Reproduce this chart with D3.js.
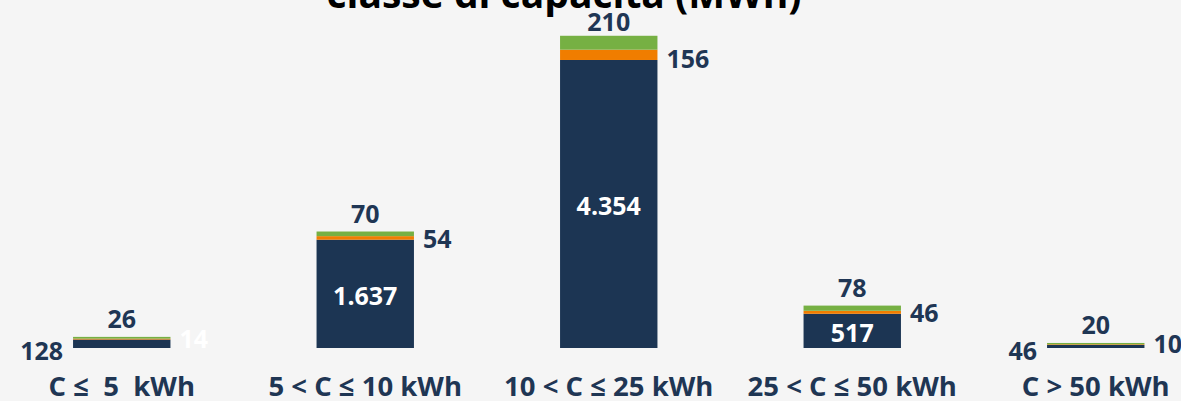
<!DOCTYPE html>
<html>
<head>
<meta charset="utf-8">
<script src="https://cdn.jsdelivr.net/npm/d3@7/dist/d3.min.js"></script>
<style>
  html, body { margin: 0; padding: 0; background: #f5f5f5; }
  svg { display: block; }
  text { font-family: "Open Sans", Lato, sans-serif; font-weight: bold; white-space: pre; }
</style>
</head>
<body>
<svg id="chart" width="1181" height="401"></svg>
<script>
const categories = ["C ≤  5  kWh", "5 < C ≤ 10 kWh", "10 < C ≤ 25 kWh", "25 < C ≤ 50 kWh", "C > 50 kWh"];
const navyValues = [128, 1637, 4354, 517, 46];
const orangeValues = [14, 54, 156, 46, 10];
const greenValues = [26, 70, 210, 78, 20];
const navyLabels = ["128", "1.637", "4.354", "517", "46"];
const titleText = "classe di capacità (MWh)";

const W = 1181, H = 401;
const svg = d3.select("#chart");
svg.append("rect").attr("width", W).attr("height", H).attr("fill", "#f5f5f5");

const colors = { navy: "#1c3553", orange: "#f07d00", green: "#76b043" };
const textDark = "#1f3654";

const x = d3.scaleBand().domain(categories).range([0, 1217.5]).paddingInner(0.6).paddingOuter(0.3);
const y = d3.scaleLinear().domain([0, 5000]).range([348, 348 - 5000 * 0.06615]);

const data = categories.map((c, i) => ({
  cat: c, navy: navyValues[i], orange: orangeValues[i], green: greenValues[i], label: navyLabels[i]
}));
const stack = d3.stack().keys(["navy", "orange", "green"])(data);

svg.append("g").selectAll("g").data(stack).join("g")
  .attr("fill", s => colors[s.key])
  .selectAll("rect").data(s => s).join("rect")
  .attr("x", d => x(d.data.cat))
  .attr("width", x.bandwidth())
  .attr("y", d => y(d[1]))
  .attr("height", d => y(d[0]) - y(d[1]));

// Title (partly cut off at top)
svg.append("text").attr("x", 564).attr("y", 8).attr("text-anchor", "middle")
  .attr("font-size", 39).attr("fill", "#000").text(titleText);

const vs = 25;
// Navy value labels
data.forEach(d => {
  const top = y(d.navy), base = y(0);
  const big = (base - top) > 25;
  const t = svg.append("text").attr("font-size", vs).attr("dominant-baseline", "central").text(d.label);
  if (big) {
    t.attr("x", x(d.cat) + x.bandwidth() / 2).attr("y", (top + base) / 2 + 1)
      .attr("text-anchor", "middle").attr("fill", "#ffffff");
  } else {
    t.attr("x", x(d.cat) - 10).attr("y", base + 2)
      .attr("text-anchor", "end").attr("fill", textDark);
  }
});

// Orange value labels (right of bar)
data.forEach((d, i) => {
  svg.append("text").attr("font-size", vs).attr("dominant-baseline", "central")
    .attr("x", x(d.cat) + x.bandwidth() + 9).attr("y", y(d.navy) - 2)
    .attr("fill", i === 0 ? "#ffffff" : textDark).text(d.orange);
});

// Green value labels (above bar)
data.forEach(d => {
  svg.append("text").attr("font-size", vs).attr("dominant-baseline", "central")
    .attr("text-anchor", "middle")
    .attr("x", x(d.cat) + x.bandwidth() / 2)
    .attr("y", Math.max(21, y(d.navy + d.orange + d.green) - 19))
    .attr("fill", textDark).text(d.green);
});

// Category axis labels
svg.append("g").selectAll("text").data(categories).join("text")
  .attr("x", c => x(c) + x.bandwidth() / 2).attr("y", 396)
  .attr("text-anchor", "middle").attr("font-size", 27.5).attr("fill", textDark)
  .text(c => c);
</script>
</body>
</html>
